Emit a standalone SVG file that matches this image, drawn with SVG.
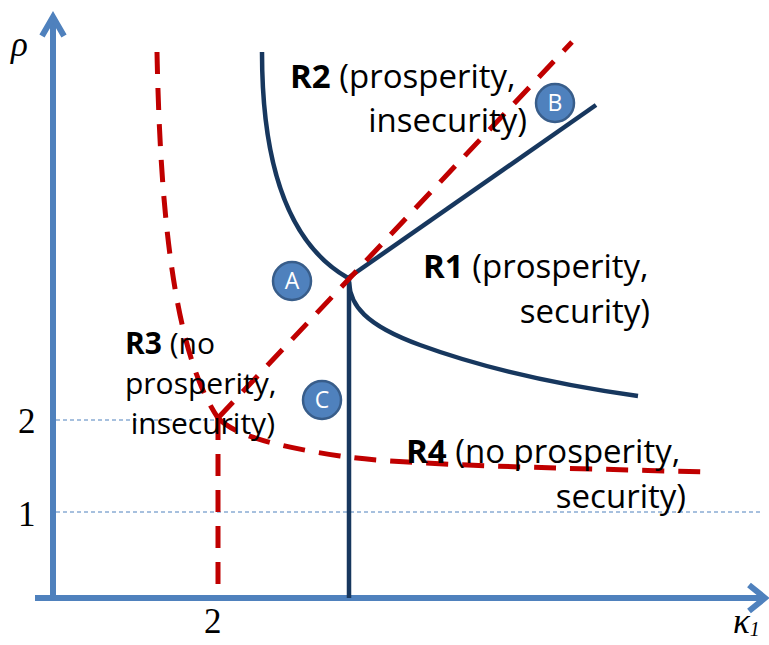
<svg xmlns="http://www.w3.org/2000/svg" width="769" height="645" viewBox="0 0 769 645">
<style>
.axis{stroke:#4F81BD;stroke-width:6;fill:none}
.grid{stroke:#4F81BD;stroke-width:1;stroke-dasharray:4 3;fill:none}
.blue{stroke:#17375E;stroke-width:4.5;fill:none}
.red{stroke:#C00000;stroke-width:5;fill:none;stroke-dasharray:22 14}
.lbl{font-family:"Open Sans","Liberation Sans",sans-serif;font-size:33px;fill:#000}
.sm{font-size:30px}
.b{font-weight:bold}
.math{font-family:"Liberation Serif","DejaVu Serif",serif;font-size:35px;fill:#000}
.circ{fill:#4F81BD;stroke:#385D8A;stroke-width:2.5}
.ct{font-family:"Open Sans","Liberation Sans",sans-serif;font-size:23px;fill:#fff;text-anchor:middle}
</style>
<rect width="769" height="645" fill="#fff"/>
<g id="axes">
<line class="grid" x1="56" y1="420" x2="220" y2="420"/>
<line class="grid" x1="56" y1="512" x2="762" y2="512"/>
<line class="axis" x1="53" y1="601" x2="53" y2="17"/>
<polyline class="axis" points="42,36 53,17 64,36"/>
<line class="axis" x1="35" y1="598" x2="765" y2="598"/>
<polyline class="axis" points="749,585 765,598 749,611"/>
<text class="math" x="11" y="56" font-style="italic">ρ</text>
<text class="math" x="733" y="633" font-style="italic">κ<tspan font-size="20" dy="3">1</tspan></text>
<text class="math" x="18" y="433">2</text>
<text class="math" x="18" y="526">1</text>
<text class="math" x="204" y="633">2</text>
</g>
<g id="connectors">
<path class="blue" d="M262,52 C262,170 290,245 348,278"/>
<line class="blue" x1="348" y1="278" x2="596" y2="105"/>
<line class="blue" x1="349" y1="278" x2="349" y2="598"/>
<path class="blue" d="M349,282 C350,305 365,325 420,345 C480,367 560,385 638,396"/>
<line class="red" x1="218" y1="418" x2="572" y2="42"/>
<line class="red" x1="218" y1="418" x2="218" y2="598"/>
<path class="red" d="M157,52 C160,200 172,350 218,418"/>
<path class="red" d="M218,418 C235,436 280,447 340,456 S560,468 705,472"/>
</g>
<g id="nodeA"><circle class="circ" cx="292" cy="281" r="19"/><text class="ct" x="292" y="289">A</text></g>
<g id="nodeB"><circle class="circ" cx="555" cy="103" r="19"/><text class="ct" x="555" y="111">B</text></g>
<g id="nodeC"><circle class="circ" cx="322" cy="400" r="19"/><text class="ct" x="322" y="408">C</text></g>
<g id="R2"><text class="lbl" x="290" y="88"><tspan class="b">R2</tspan> (prosperity,</text><text class="lbl" x="527" y="132" text-anchor="end">insecurity)</text></g>
<g id="R1"><text class="lbl" x="423" y="278"><tspan class="b">R1</tspan> (prosperity,</text><text class="lbl" x="650" y="323" text-anchor="end">security)</text></g>
<g id="R3"><text class="lbl sm" x="125" y="354"><tspan class="b">R3</tspan> (no</text><text class="lbl sm" x="125" y="394">prosperity,</text><text class="lbl sm" x="275" y="434" text-anchor="end">insecurity)</text></g>
<g id="R4"><text class="lbl" x="406" y="463"><tspan class="b">R4</tspan> (no prosperity,</text><text class="lbl" x="686" y="508" text-anchor="end">security)</text></g>
</svg>
